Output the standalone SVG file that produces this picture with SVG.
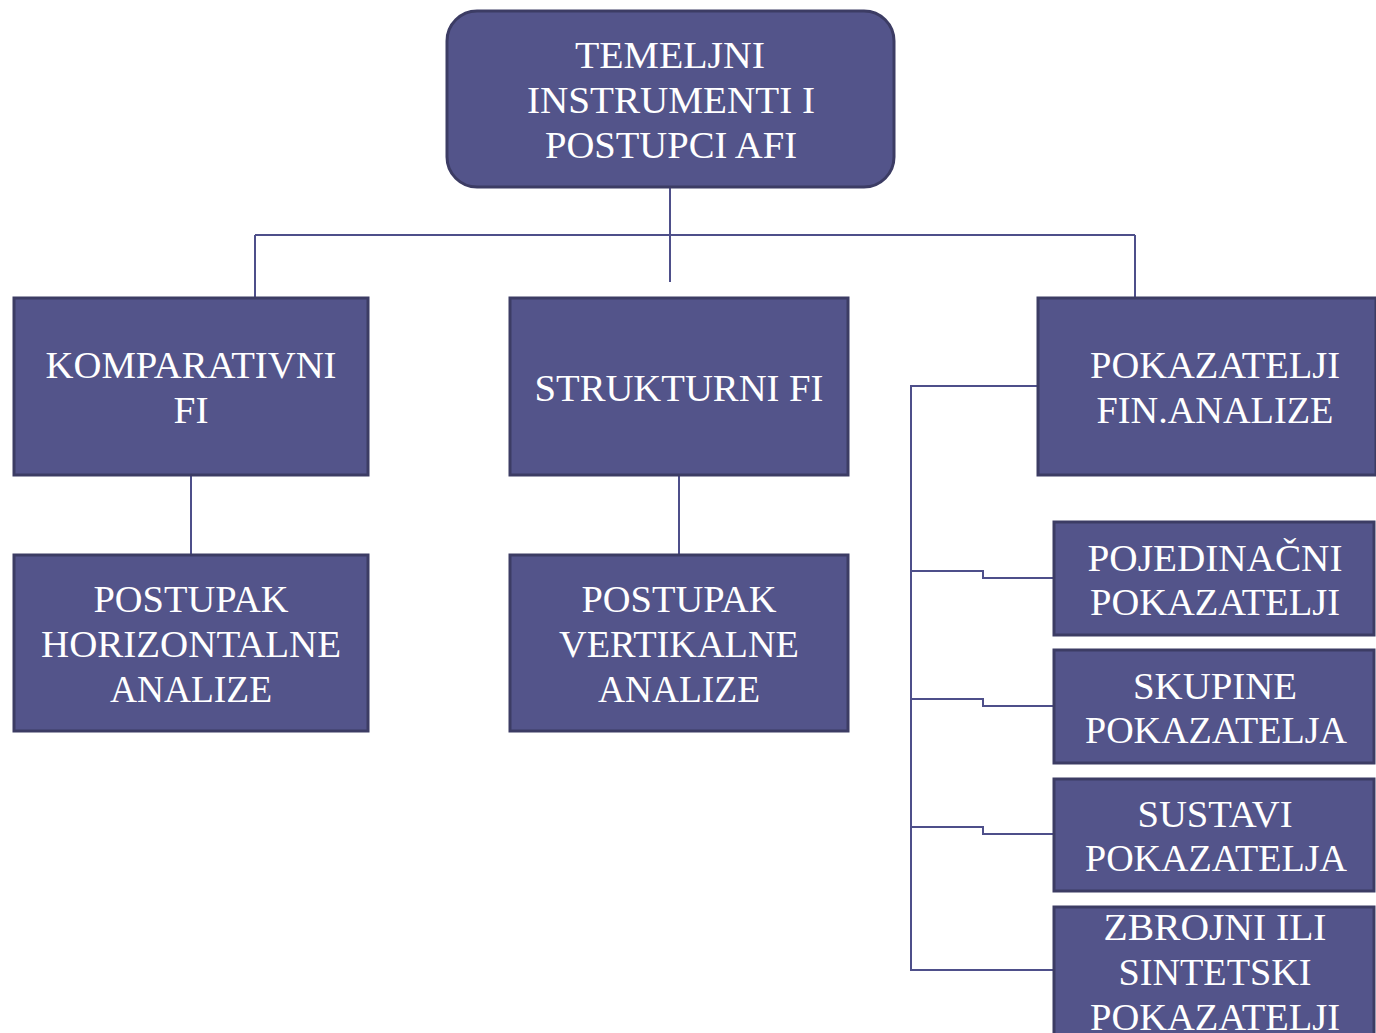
<svg xmlns="http://www.w3.org/2000/svg" width="1376" height="1033" viewBox="0 0 1376 1033">
<style>
.box{fill:#53548A;stroke:#3C3C64;stroke-width:3}
.t{font-family:"Liberation Serif","Times New Roman",serif;font-size:38px;fill:#FFFFFF;text-anchor:middle}
.c{fill:none;stroke:#4E4F8A;stroke-width:2}
</style>
<rect width="1376" height="1033" fill="#FFFFFF"/>
<g id="connectors">
<path class="c" d="M670 187V282"/>
<path class="c" d="M255 235H1135"/>
<path class="c" d="M255 235V298"/>
<path class="c" d="M1135 235V298"/>
<path class="c" d="M191 475V555"/>
<path class="c" d="M679 475V555"/>
<path class="c" d="M1038 386H911V970H1054"/>
<path class="c" d="M911 571H983V578H1054"/>
<path class="c" d="M911 699H983V706H1054"/>
<path class="c" d="M911 827H983V834H1054"/>
</g>
<g id="root">
<rect class="box" x="447" y="11" width="447" height="176" rx="30"/>
<text class="t" x="670" y="68" textLength="190" lengthAdjust="spacingAndGlyphs">TEMELJNI</text>
<text class="t" x="671" y="113" textLength="288" lengthAdjust="spacingAndGlyphs">INSTRUMENTI I</text>
<text class="t" x="671" y="158" textLength="252" lengthAdjust="spacingAndGlyphs">POSTUPCI AFI</text>
</g>
<g id="komparativni">
<rect class="box" x="14" y="298" width="354" height="177"/>
<text class="t" x="191" y="378" textLength="291" lengthAdjust="spacingAndGlyphs">KOMPARATIVNI</text>
<text class="t" x="191" y="423" textLength="35" lengthAdjust="spacingAndGlyphs">FI</text>
</g>
<g id="strukturni">
<rect class="box" x="510" y="298" width="338" height="177"/>
<text class="t" x="679" y="401" textLength="289" lengthAdjust="spacingAndGlyphs">STRUKTURNI FI</text>
</g>
<g id="pokazatelji">
<rect class="box" x="1038" y="298" width="338" height="177"/>
<text class="t" x="1215" y="378" textLength="250" lengthAdjust="spacingAndGlyphs">POKAZATELJI</text>
<text class="t" x="1215" y="423" textLength="237" lengthAdjust="spacingAndGlyphs">FIN.ANALIZE</text>
</g>
<g id="horizontalne">
<rect class="box" x="14" y="555" width="354" height="176"/>
<text class="t" x="191" y="612" textLength="195" lengthAdjust="spacingAndGlyphs">POSTUPAK</text>
<text class="t" x="191" y="657" textLength="300" lengthAdjust="spacingAndGlyphs">HORIZONTALNE</text>
<text class="t" x="191" y="702" textLength="162" lengthAdjust="spacingAndGlyphs">ANALIZE</text>
</g>
<g id="vertikalne">
<rect class="box" x="510" y="555" width="338" height="176"/>
<text class="t" x="679" y="612" textLength="195" lengthAdjust="spacingAndGlyphs">POSTUPAK</text>
<text class="t" x="679" y="657" textLength="240" lengthAdjust="spacingAndGlyphs">VERTIKALNE</text>
<text class="t" x="679" y="702" textLength="162" lengthAdjust="spacingAndGlyphs">ANALIZE</text>
</g>
<g id="pojedinacni">
<rect class="box" x="1054" y="522" width="320" height="113"/>
<text class="t" x="1215" y="571" textLength="255" lengthAdjust="spacingAndGlyphs">POJEDINAČNI</text>
<text class="t" x="1215" y="615" textLength="250" lengthAdjust="spacingAndGlyphs">POKAZATELJI</text>
</g>
<g id="skupine">
<rect class="box" x="1054" y="650" width="320" height="113"/>
<text class="t" x="1215" y="699" textLength="164" lengthAdjust="spacingAndGlyphs">SKUPINE</text>
<text class="t" x="1216" y="743" textLength="262" lengthAdjust="spacingAndGlyphs">POKAZATELJA</text>
</g>
<g id="sustavi">
<rect class="box" x="1054" y="779" width="320" height="112"/>
<text class="t" x="1215" y="827" textLength="155" lengthAdjust="spacingAndGlyphs">SUSTAVI</text>
<text class="t" x="1216" y="871" textLength="262" lengthAdjust="spacingAndGlyphs">POKAZATELJA</text>
</g>
<g id="zbrojni">
<rect class="box" x="1054" y="907" width="320" height="140"/>
<text class="t" x="1215" y="940" textLength="223" lengthAdjust="spacingAndGlyphs">ZBROJNI ILI</text>
<text class="t" x="1215" y="985" textLength="193" lengthAdjust="spacingAndGlyphs">SINTETSKI</text>
<text class="t" x="1215" y="1030" textLength="250" lengthAdjust="spacingAndGlyphs">POKAZATELJI</text>
</g>
</svg>
